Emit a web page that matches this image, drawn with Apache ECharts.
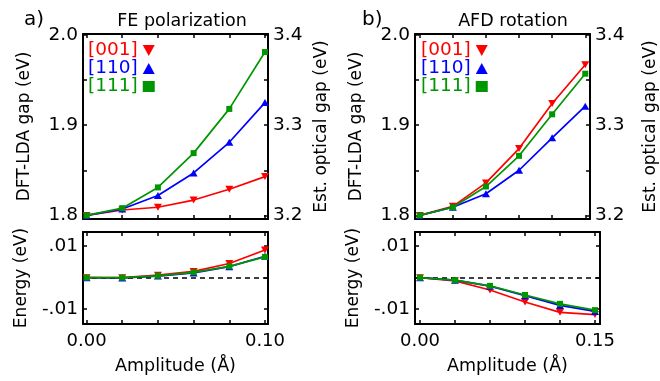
<!DOCTYPE html>
<html>
<head>
<meta charset="utf-8">
<script src="https://cdn.jsdelivr.net/npm/echarts@6/dist/echarts.min.js"></script>
<style>
  html, body { margin: 0; padding: 0; background: #fff; }
  #chart { width: 660px; height: 381px; }
</style>
</head>
<body>
<div id="chart"></div>
<script>
// amplitudes (Å)
const ampA = [0, 0.02, 0.04, 0.06, 0.08, 0.10]
const ampB = [0, 0.03, 0.06, 0.09, 0.12, 0.15]

// FE polarization: DFT-LDA gap (eV)
const gapA001 = [1.800, 1.806, 1.809, 1.817, 1.829, 1.843]
const gapA110 = [1.800, 1.807, 1.822, 1.847, 1.881, 1.925]
const gapA111 = [1.800, 1.808, 1.831, 1.869, 1.918, 1.981]
// FE polarization: energy (eV)
const enA001 = [0, 0, 0.0008, 0.0020, 0.0045, 0.0088]
const enA110 = [0, -0.0001, 0.0005, 0.0015, 0.0035, 0.0068]
const enA111 = [0, 0, 0.0006, 0.0017, 0.0036, 0.0066]

// AFD rotation: DFT-LDA gap (eV)
const gapB001 = [1.800, 1.810, 1.836, 1.874, 1.924, 1.967]
const gapB110 = [1.800, 1.809, 1.824, 1.850, 1.886, 1.921]
const gapB111 = [1.800, 1.809, 1.832, 1.866, 1.912, 1.957]
// AFD rotation: energy (eV)
const enB001 = [0, -0.0010, -0.0039, -0.0077, -0.0110, -0.0117]
const enB110 = [0, -0.0008, -0.0027, -0.0057, -0.0088, -0.0107]
const enB111 = [0, -0.0008, -0.0026, -0.0055, -0.0083, -0.0103]

const dirNames = ['[001]', '[110]', '[111]']
const ticksA = [0, 0.02, 0.04, 0.06, 0.08, 0.10]
const ticksB = [0, 0.03, 0.06, 0.09, 0.12, 0.15]
const gapTicks = [1.8, 1.85, 1.9, 1.95, 2.0]
const gapLabels = [1.8, 1.9, 2.0]
const optTicks = [3.2, 3.25, 3.3, 3.35, 3.4]
const optLabels = [3.2, 3.3, 3.4]
const enTicks = [-0.01, 0, 0.01]
const enLabels = [-0.01, 0.01]

const RED = '#ff0000'
const BLUE = '#0000ff'
const GREEN = '#009600'
const FONT = 'DejaVu Sans'
const DOWN_TRI = 'path://M0,0 L10,0 L5,9 Z'

const frameLine = { show: true, onZero: false, lineStyle: { color: '#000', width: 2 } }
const tick = (values) => ({ show: true, inside: true, length: 4, customValues: values, lineStyle: { color: '#000', width: 1.5 } })
const noLabel = { show: false }

const grids = [
  { left: 83, top: 34, width: 185, height: 185 },
  { left: 83, top: 232, width: 185, height: 92 },
  { left: 415, top: 34, width: 185, height: 185 },
  { left: 415, top: 232, width: 185, height: 92 }
]

const xAxis = []
const yAxis = []

function addX (gridIndex, min, max, ticks, labels) {
  // bottom
  xAxis.push({
    gridIndex, type: 'value', min, max, position: 'bottom',
    axisLine: frameLine, axisTick: tick(ticks), splitLine: { show: false },
    axisLabel: labels ? {
      show: true, customValues: labels, color: '#000', fontFamily: FONT, fontSize: 18, margin: 8,
      formatter: (v) => v.toFixed(2)
    } : noLabel,
    name: labels ? 'Amplitude (Å)' : '', nameLocation: 'middle', nameGap: 33,
    nameTextStyle: { color: '#000', fontFamily: FONT, fontSize: 17.5 }
  })
  // top
  xAxis.push({
    gridIndex, type: 'value', min, max, position: 'top',
    axisLine: frameLine, axisTick: tick(ticks), splitLine: { show: false }, axisLabel: noLabel
  })
}

function addY (gridIndex, min, max, ticks, labels, fmt, name, nameGap, position) {
  yAxis.push({
    gridIndex, type: 'value', min, max, position,
    axisLine: frameLine, axisTick: tick(ticks), splitLine: { show: false },
    axisLabel: labels ? {
      show: true, customValues: labels, color: '#000', fontFamily: FONT, fontSize: 18.5, margin: 5, formatter: fmt
    } : noLabel,
    name, nameLocation: 'middle', nameGap, nameRotate: 90,
    nameTextStyle: { color: '#000', fontFamily: FONT, fontSize: 17 }
  })
}

const fmtGap = (v) => v.toFixed(1)
const fmtEn = (v) => (v < 0 ? '-.' : '.') + Math.round(Math.abs(v) * 100).toString().padStart(2, '0')

// panel a
addX(0, -0.002, 0.1017, ticksA, null)
addX(1, -0.002, 0.1017, ticksA, [0, 0.1])
// panel b
addX(2, -0.0043, 0.1543, ticksB, null)
addX(3, -0.0043, 0.1543, ticksB, [0, 0.15])

// y axes: index 0..7
addY(0, 1.796, 2.001, gapTicks, gapLabels, fmtGap, 'DFT-LDA gap (eV)', 50, 'left')
addY(0, 3.196, 3.401, optTicks, optLabels, fmtGap, 'Est. optical gap (eV)', 45, 'right')
addY(1, -0.0147, 0.0145, enTicks, enLabels, fmtEn, 'Energy (eV)', 53, 'left')
addY(1, -0.0147, 0.0145, enTicks, null, fmtEn, '', 0, 'right')
addY(2, 1.796, 2.001, gapTicks, gapLabels, fmtGap, 'DFT-LDA gap (eV)', 50, 'left')
addY(2, 3.196, 3.401, optTicks, optLabels, fmtGap, 'Est. optical gap (eV)', 52, 'right')
addY(3, -0.0147, 0.0145, enTicks, enLabels, fmtEn, 'Energy (eV)', 53, 'left')
addY(3, -0.0147, 0.0145, enTicks, null, fmtEn, '', 0, 'right')

const styles = [
  { color: RED, symbol: DOWN_TRI, size: [8, 7] },
  { color: BLUE, symbol: 'triangle', size: [8, 7] },
  { color: GREEN, symbol: 'rect', size: 6 }
]

function lineSeries (xs, ys, xIdx, yIdx, k, legendName) {
  const s = styles[k]
  return {
    name: legendName,
    type: 'line',
    xAxisIndex: xIdx,
    yAxisIndex: yIdx,
    data: xs.map((x, i) => [x, ys[i]]),
    symbol: s.symbol,
    symbolSize: s.size,
    showSymbol: true,
    lineStyle: { color: s.color, width: 1.7 },
    itemStyle: { color: s.color },
    z: 3 + k,
    silent: true,
    animation: false
  }
}

const zeroLine = (xIdx, yIdx) => ({
  type: 'line', xAxisIndex: xIdx, yAxisIndex: yIdx, data: [], silent: true,
  markLine: {
    silent: true, symbol: 'none', animation: false, label: { show: false },
    lineStyle: { color: '#000', type: [5, 4], width: 1.5 },
    data: [{ yAxis: 0 }]
  },
  z: 2
})

const series = [
  lineSeries(ampA, gapA001, 0, 0, 0, 'a001'),
  lineSeries(ampA, gapA110, 0, 0, 1, 'a110'),
  lineSeries(ampA, gapA111, 0, 0, 2, 'a111'),
  zeroLine(2, 2),
  lineSeries(ampA, enA001, 2, 2, 0, 'ea001'),
  lineSeries(ampA, enA110, 2, 2, 1, 'ea110'),
  lineSeries(ampA, enA111, 2, 2, 2, 'ea111'),
  lineSeries(ampB, gapB001, 4, 4, 0, 'b001'),
  lineSeries(ampB, gapB110, 4, 4, 1, 'b110'),
  lineSeries(ampB, gapB111, 4, 4, 2, 'b111'),
  zeroLine(6, 6),
  lineSeries(ampB, enB001, 6, 6, 0, 'eb001'),
  lineSeries(ampB, enB110, 6, 6, 1, 'eb110'),
  lineSeries(ampB, enB111, 6, 6, 2, 'eb111')
]

function legendFor (prefix, left) {
  return {
    left, top: 41, orient: 'vertical', align: 'right', itemGap: -1,
    itemWidth: 12, itemHeight: 11, selectedMode: false, padding: 0,
    formatter: (n) => dirNames[['001', '110', '111'].indexOf(n.slice(-3))],
    data: [
      { name: prefix + '001', icon: DOWN_TRI, textStyle: { color: RED } },
      { name: prefix + '110', icon: 'triangle', textStyle: { color: BLUE } },
      { name: prefix + '111', icon: 'rect', textStyle: { color: GREEN } }
    ],
    textStyle: { fontFamily: FONT, fontSize: 18.5, lineHeight: 18, padding: [0, 0, 0, 0] }
  }
}

const titleStyle = { color: '#000', fontFamily: FONT, fontSize: 17.5, fontWeight: 'normal' }

const option = {
  backgroundColor: '#fff',
  animation: false,
  title: [
    { text: 'a)', left: 19, top: 5, textStyle: { ...titleStyle, fontSize: 20 } },
    { text: 'FE polarization', left: 177, top: 7, textAlign: 'center', textStyle: titleStyle },
    { text: 'b)', left: 357, top: 5, textStyle: { ...titleStyle, fontSize: 20 } },
    { text: 'AFD rotation', left: 508, top: 7, textAlign: 'center', textStyle: titleStyle }
  ],
  legend: [legendFor('a', 88), legendFor('b', 421)],
  grid: grids,
  xAxis,
  yAxis,
  series
}

const chart = echarts.init(document.getElementById('chart'), null, { renderer: 'canvas' })
chart.setOption(option)
</script>
</body>
</html>
